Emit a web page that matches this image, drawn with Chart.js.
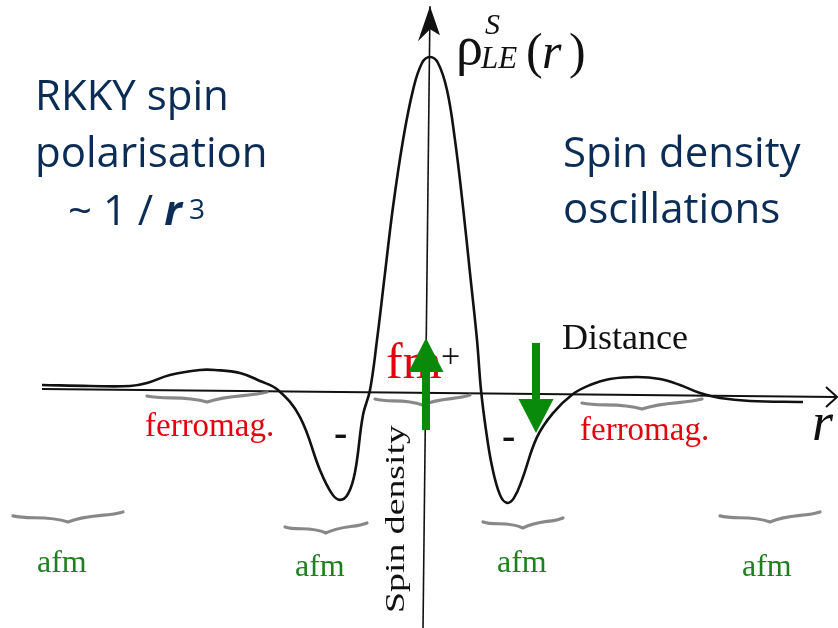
<!DOCTYPE html>
<html>
<head>
<meta charset="utf-8">
<script src="https://cdn.jsdelivr.net/npm/chart.js@4.4.1/dist/chart.umd.min.js"></script>
<style>
  html, body { margin: 0; padding: 0; background: #fff; }
  #wrap { width: 838px; height: 628px; position: relative; }
</style>
</head>
<body>
<div id="wrap"><canvas id="myChart"></canvas></div>
<script>
// spin density rho(r) (r in arbitrary units, rho relative to the peak)
const rValues = [-7.66, -6.70, -5.90, -5.56, -5.10, -4.50, -4.20, -3.70, -3.30, -2.94,
  -2.50, -2.10, -1.86, -1.70, -1.54, -1.40, -1.24, -1.10, -0.96, -0.80,
  -0.64, -0.44, -0.24, -0.06, 0.10, 0.26, 0.44, 0.60, 0.76, 0.90,
  1.04, 1.12, 1.22, 1.34, 1.50, 1.64, 1.78, 1.94, 2.24, 2.56,
  2.96, 3.30, 3.70, 4.24, 4.70, 5.10, 5.50, 5.90, 6.50, 7.56];
const rhoValues = [0.018, 0.015, 0.015, 0.024, 0.048, 0.063, 0.063, 0.054, 0.030, 0.003,
  -0.078, -0.237, -0.308, -0.326, -0.308, -0.243, -0.072, 0.003, 0.153, 0.353,
  0.551, 0.751, 0.901, 0.982, 1.000, 0.982, 0.901, 0.751, 0.551, 0.353,
  0.153, 0.003, -0.117, -0.225, -0.311, -0.335, -0.320, -0.266, -0.138, -0.066,
  -0.009, 0.018, 0.036, 0.042, 0.036, 0.018, -0.006, -0.021, -0.030, -0.033];

// the two hand-drawn axes (ends), slightly tilted in the scan
const rAxisEnds = [-7.66, 8.24];
const rAxisLevels = [0.006, -0.018];
const rhoAxisEnds = [-0.71, 1.152];
const rhoAxisPos = [-0.04, 0.10];

// braces under the ferromagnetic / antiferromagnetic regions
const braceStart = [-5.56, -1.00, 3.14, -8.24, -2.80, 1.16, 5.90];
const braceEnd = [-3.16, 0.90, 5.54, -6.04, -1.16, 2.76, 7.90];
const braceLevel = [-0.015, -0.024, -0.036, -0.374, -0.407, -0.392, -0.374];

// green spin arrows: position, tail and tip
const spinR = [0.02, 2.22];
const spinFrom = [-0.117, 0.144];
const spinTo = [0.159, -0.126];

const navy = '#0b2c54';
const red = '#e3000f';
const afmGreen = '#1d7f1d';
const serif = '"Liberation Serif", "Times New Roman", serif';
const sans = '"Open Sans", "Noto Sans", sans-serif';

const labels = [
  { t: 'RKKY spin', x: 35, y: 110, font: '42px ' + sans, c: navy },
  { t: 'polarisation', x: 35, y: 167, font: '42px ' + sans, c: navy },
  { t: 'Spin density', x: 563, y: 167, font: '42px ' + sans, c: navy },
  { t: 'oscillations', x: 563, y: 223, font: '42px ' + sans, c: navy },
  { t: 'Distance', x: 562, y: 349, font: '36px ' + serif, c: '#111' },
  { t: 'ferromag.', x: 145, y: 436, font: '33px ' + serif, c: red },
  { t: 'ferromag.', x: 580, y: 440, font: '33px ' + serif, c: red },
  { t: 'afm', x: 37, y: 572, font: '32px ' + serif, c: afmGreen },
  { t: 'afm', x: 295, y: 576, font: '32px ' + serif, c: afmGreen },
  { t: 'afm', x: 497, y: 572, font: '32px ' + serif, c: afmGreen },
  { t: 'afm', x: 742, y: 576, font: '32px ' + serif, c: afmGreen },
  { t: 'fm', x: 386, y: 378, font: '50px ' + serif, c: red },
  { t: '+', x: 441, y: 367, font: '34px ' + serif, c: '#111' },
  { t: '-', x: 334, y: 446, font: 'bold 40px ' + serif, c: '#111' },
  { t: '-', x: 502, y: 449, font: 'bold 40px ' + serif, c: '#111' },
  { t: 'r', x: 812, y: 440, font: 'italic 54px ' + serif, c: '#111' },
  { t: '\u03c1', x: 456, y: 64, font: '54px ' + serif, c: '#111' },
  { t: 'S', x: 485, y: 34, font: 'italic 30px ' + serif, c: '#111' },
  { t: 'LE', x: 481, y: 68, font: 'italic 31px ' + serif, c: '#111' },
  { t: '(', x: 526, y: 68, font: '50px ' + serif, c: '#111' },
  { t: 'r', x: 542, y: 68, font: 'italic 50px ' + serif, c: '#111' },
  { t: ')', x: 569, y: 68, font: '50px ' + serif, c: '#111' }
];

const decor = {
  id: 'decor',
  afterDatasetsDraw(chart) {
    const ctx = chart.ctx;
    const xs = chart.scales.x;
    const ys = chart.scales.y;
    ctx.save();

    // arrowheads on the axes
    const tx = xs.getPixelForValue(rhoAxisPos[1]);
    const ty = ys.getPixelForValue(rhoAxisEnds[1]);
    ctx.fillStyle = '#111';
    ctx.beginPath();
    ctx.moveTo(tx, ty);
    ctx.lineTo(tx - 12, ty + 35);
    ctx.lineTo(tx, ty + 23);
    ctx.lineTo(tx + 10, ty + 29);
    ctx.closePath();
    ctx.fill();

    const ax = xs.getPixelForValue(rAxisEnds[1]);
    const ay = ys.getPixelForValue(rAxisLevels[1]);
    ctx.strokeStyle = '#111';
    ctx.lineWidth = 2;
    ctx.beginPath();
    ctx.moveTo(ax - 11, ay - 10);
    ctx.lineTo(ax, ay);
    ctx.lineTo(ax - 11, ay + 10);
    ctx.stroke();

    // grey braces
    ctx.strokeStyle = 'rgba(115,115,115,0.85)';
    ctx.lineWidth = 3.2;
    ctx.lineCap = 'round';
    braceStart.forEach((r0, i) => {
      const x0 = xs.getPixelForValue(r0);
      const x1 = xs.getPixelForValue(braceEnd[i]);
      const y = ys.getPixelForValue(braceLevel[i]);
      const xm = (x0 + x1) / 2;
      const w = x1 - x0;
      ctx.beginPath();
      ctx.moveTo(x0, y);
      ctx.bezierCurveTo(x0 + w * 0.15, y + 4, xm - w * 0.2, y - 1, xm, y + 6);
      ctx.bezierCurveTo(xm + w * 0.2, y - 2, x1 - w * 0.15, y + 1, x1, y - 4);
      ctx.stroke();
    });

    // text
    ctx.textBaseline = 'alphabetic';
    ctx.textAlign = 'left';
    labels.forEach(l => {
      ctx.font = l.font;
      ctx.fillStyle = l.c;
      ctx.fillText(l.t, l.x, l.y);
    });

    // "~ 1 / r 3"
    let x = 68;
    ctx.fillStyle = navy;
    ctx.font = '42px ' + sans;
    ctx.fillText('~ 1 / ', x, 225);
    x += ctx.measureText('~ 1 / ').width;
    ctx.font = 'italic bold 42px ' + sans;
    ctx.fillText('r', x, 225);
    x += ctx.measureText('r').width;
    ctx.font = '28px ' + sans;
    ctx.fillText(' 3', x, 219);

    // vertical axis title
    ctx.save();
    ctx.translate(404, 613);
    ctx.rotate(-Math.PI / 2);
    ctx.scale(1.35, 1);
    ctx.font = '28px ' + serif;
    ctx.fillStyle = '#111';
    ctx.fillText('Spin density', 0, 0);
    ctx.restore();

    // green spin arrows
    ctx.fillStyle = '#0a8a0a';
    spinR.forEach((r, i) => {
      const cx = xs.getPixelForValue(r);
      const y0 = ys.getPixelForValue(spinFrom[i]);
      const y1 = ys.getPixelForValue(spinTo[i]);
      const dir = y1 < y0 ? -1 : 1;
      const head = 34;
      const yb = y1 - dir * head;
      ctx.fillRect(cx - 4, Math.min(y0, yb), 8, Math.abs(yb - y0));
      ctx.beginPath();
      ctx.moveTo(cx - 17.5, yb);
      ctx.lineTo(cx + 17.5, yb);
      ctx.lineTo(cx, y1);
      ctx.closePath();
      ctx.fill();
    });

    ctx.restore();
  }
};

new Chart(document.getElementById('myChart'), {
  type: 'line',
  data: {
    datasets: [
      {
        data: rValues.map((r, i) => ({ x: r, y: rhoValues[i] })),
        borderColor: '#111',
        borderWidth: 2.6,
        pointRadius: 0,
        tension: 0.4
      },
      {
        data: rAxisEnds.map((r, i) => ({ x: r, y: rAxisLevels[i] })),
        borderColor: '#111',
        borderWidth: 2,
        pointRadius: 0,
        tension: 0
      },
      {
        data: rhoAxisEnds.map((v, i) => ({ x: rhoAxisPos[i], y: v })),
        borderColor: '#111',
        borderWidth: 1.6,
        pointRadius: 0,
        tension: 0
      }
    ]
  },
  options: {
    responsive: true,
    maintainAspectRatio: false,
    animation: false,
    layout: { padding: 0 },
    plugins: { legend: { display: false }, tooltip: { enabled: false } },
    scales: {
      x: { type: 'linear', min: -8.5, max: 8.26, display: false },
      y: { type: 'linear', min: -0.7096, max: 1.1707, display: false }
    }
  },
  plugins: [decor]
});
</script>
</body>
</html>
